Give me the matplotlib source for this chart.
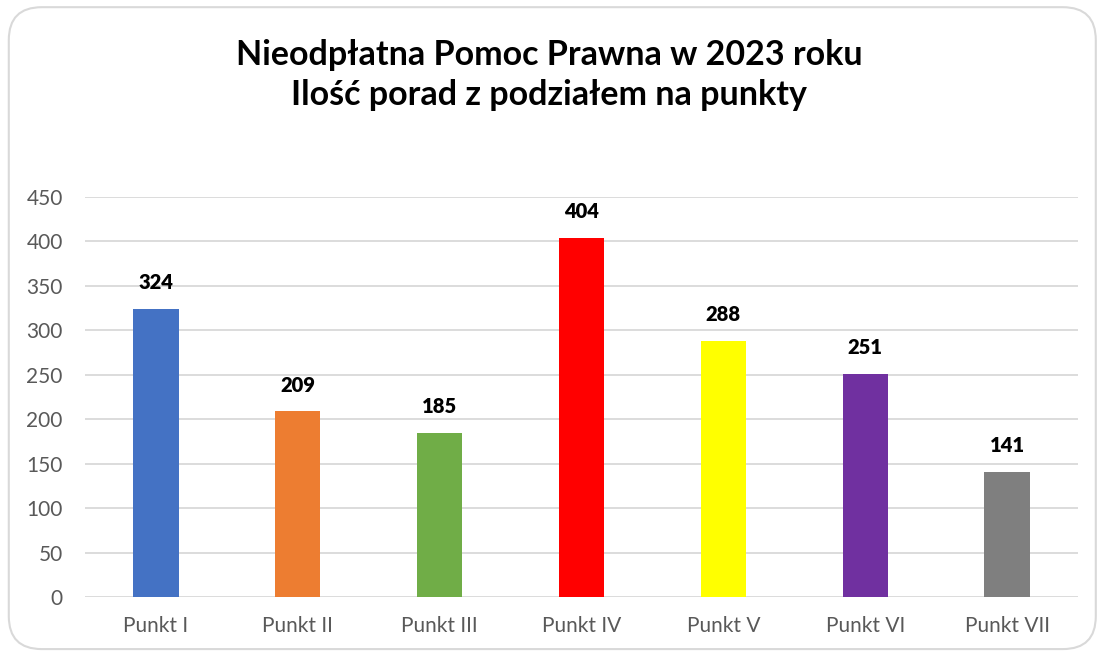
import matplotlib.pyplot as plt
from matplotlib.patches import FancyBboxPatch

categories = ["Punkt I", "Punkt II", "Punkt III", "Punkt IV", "Punkt V", "Punkt VI", "Punkt VII"]
values = [324, 209, 185, 404, 288, 251, 141]
colors = ["#4472C4", "#ED7D31", "#70AD47", "#FF0000", "#FFFF00", "#7030A0", "#7F7F7F"]
title = "Nieodpłatna Pomoc Prawna w 2023 roku\nIlość porad z podziałem na punkty"

plt.rcParams["font.family"] = ["Lato", "DejaVu Sans"]

fig = plt.figure(figsize=(10.98, 6.53), dpi=100)
frame = FancyBboxPatch(
    (0.008, 0.006), 0.99, 0.983,
    boxstyle="round,pad=0,rounding_size=0.03",
    transform=fig.transFigure, facecolor="white", edgecolor="#d9d9d9", linewidth=1.5,
    mutation_aspect=1098 / 653, zorder=-1,
)
fig.patches.append(frame)

ax = fig.add_axes([0.0774, 0.0858, 0.9044, 0.6125])
ax.set_facecolor("none")
x = range(len(categories))
bars = ax.bar(x, values, width=0.32, color=colors, zorder=3)
for xi, v in zip(x, values):
    ax.annotate(str(v), (xi, v), xytext=(0, 12), textcoords="offset points",
                ha="center", va="bottom", fontsize=14.5, fontweight="heavy", color="black")

ax.set_xlim(-0.5, len(categories) - 0.5)
ax.set_ylim(0, 450)
ax.set_yticks(range(0, 451, 50))
ax.set_xticks(list(x))
ax.set_xticklabels(categories)
ax.tick_params(axis="both", length=0, labelsize=15, colors="#595959")
ax.tick_params(axis="x", pad=14)
ax.tick_params(axis="y", pad=16)
ax.grid(axis="y", color="#d9d9d9", linewidth=1.3, zorder=0)
for s in ax.spines.values():
    s.set_visible(False)

fig.text(0.5, 0.885, title, ha="center", va="center", fontsize=24.5, fontweight="bold",
         linespacing=1.3)

fig.savefig("out.png", dpi=100)
